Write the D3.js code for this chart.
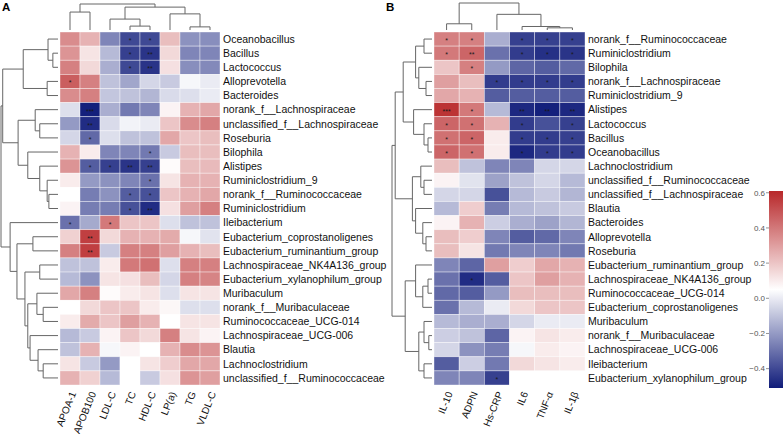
<!DOCTYPE html>
<html>
<head>
  <meta charset="utf-8">
  <script src="https://d3js.org/d3.v7.min.js"></script>
  <style>
    body { margin: 0; background: #fff; }
    text { font-family: "Liberation Sans", Arial, sans-serif; }
  </style>
</head>
<body>
<svg id="chart" width="784" height="434"></svg>
<script>
// ---- panel A data ----
var rowsA = ['Oceanobacillus','Bacillus','Lactococcus','Alloprevotella','Bacteroides',
  'norank_f__Lachnospiraceae','unclassified_f__Lachnospiraceae','Roseburia','Bilophila','Alistipes',
  'Ruminiclostridium_9','norank_f__Ruminococcaceae','Ruminiclostridium','Ileibacterium',
  'Eubacterium_coprostanoligenes','Eubacterium_ruminantium_group','Lachnospiraceae_NK4A136_group',
  'Eubacterium_xylanophilum_group','Muribaculum','norank_f__Muribaculaceae','Ruminococcaceae_UCG-014',
  'Lachnospiraceae_UCG-006','Blautia','Lachnoclostridium','unclassified_f__Ruminococcaceae'];
var colsA = ['APOA-1','APOB100','LDL-C','TC','HDL-C','LP(a)','TG','VLDL-C'];
var valsA = [
  [0.35, 0.25,-0.25,-0.40,-0.40, 0.22,-0.22,-0.23],
  [0.33, 0.12,-0.12,-0.42,-0.45, 0.15,-0.25,-0.25],
  [0.38, 0.15,-0.15,-0.40,-0.45, 0.13,-0.23,-0.24],
  [0.47, 0.38,-0.10,-0.17,-0.05,-0.08, 0.03, 0.00],
  [0.35, 0.38,-0.09,-0.10,-0.13,-0.04,-0.03, 0.00],
  [-0.03,-0.50,-0.15,-0.28,-0.25, 0.08, 0.25, 0.28],
  [-0.20,-0.47,-0.04, 0.02, 0.00, 0.20, 0.35, 0.38],
  [-0.05,-0.32,-0.03,-0.10,-0.10, 0.28, 0.20, 0.22],
  [0.25, 0.10,-0.25,-0.25,-0.28,-0.08, 0.22, 0.22],
  [0.33,-0.35,-0.42,-0.45,-0.42, 0.06, 0.22, 0.23],
  [0.10,-0.20,-0.22,-0.25,-0.30, 0.12, 0.25, 0.25],
  [0.05,-0.27,-0.22,-0.35,-0.38, 0.20, 0.25, 0.28],
  [0.08,-0.27,-0.27,-0.38,-0.47, 0.13, 0.30, 0.38],
  [-0.30,-0.16, 0.40, 0.20, 0.20,-0.03,-0.10,-0.10],
  [0.17, 0.55, 0.15, 0.25, 0.25, 0.27, 0.03,-0.02],
  [0.38, 0.55,-0.08, 0.38, 0.38, 0.30, 0.25, 0.22],
  [-0.10,-0.10, 0.10, 0.40, 0.42,-0.03, 0.38, 0.38],
  [-0.12,-0.22, 0.12, 0.13, 0.22,-0.05, 0.38, 0.37],
  [0.28, 0.38, 0.06, 0.10, 0.12,-0.03, 0.12, 0.12],
  [0.05, 0.15, 0.20, 0.20, 0.10, 0.07,-0.03,-0.03],
  [0.10, 0.27, 0.20, 0.30, 0.25, 0.05, 0.12, 0.12],
  [-0.12,-0.08, 0.08, 0.20, 0.15, 0.38, 0.12, 0.08],
  [-0.10, 0.25, 0.03, 0.08, 0.05, 0.25, 0.35, 0.33],
  [0.12,-0.08,-0.20, 0.05, 0.12, 0.18, 0.28, 0.28],
  [0.25, 0.17,-0.12, 0.05,-0.08, 0.13, 0.33, 0.30]
];
var sigA = [
  ['','','','*','*','','',''],
  ['','','','*','**','','',''],
  ['','','','*','**','','',''],
  ['*','','','','','','',''],
  ['','','','','','','',''],
  ['','***','','','','','',''],
  ['','**','','','','','',''],
  ['','*','','','','','',''],
  ['','','','','*','','',''],
  ['','*','*','**','**','','',''],
  ['','','','','*','','',''],
  ['','','','*','*','','',''],
  ['','','','*','**','','',''],
  ['*','','*','','','','',''],
  ['','**','','','','','',''],
  ['','**','','','','','','']
];
// trees: [height, left, right], leaves are row/column indices
var treeColA = [1, [0.69, 0, 1], [0.88, [0.42, 2, [0.15, 3, 4]], [0.62, 5, [0.12, 6, 7]]]];
var treeRowA = [1,
  [0.97,
    [0.61, [0.175, 0, [0.09, 1, 2]], [0.19, 3, 4]],
    [0.70, [0.40, 5, [0.32, 6, 7]], [0.53, 8, [0.32, 9, [0.19, 10, [0.16, 11, 12]]]]]],
  [0.84, 13,
    [0.72, [0.44, 14, 15],
      [0.58, [0.32, 16, 17],
        [0.53, [0.37, 18, [0.26, 19, 20]], [0.49, 21, [0.35, 22, [0.26, 23, 24]]]]]]]];

// ---- panel B data ----
var rowsB = ['norank_f__Ruminococcaceae','Ruminiclostridium','Bilophila','norank_f__Lachnospiraceae',
  'Ruminiclostridium_9','Alistipes','Lactococcus','Bacillus','Oceanobacillus','Lachnoclostridium',
  'unclassified_f__Ruminococcaceae','unclassified_f__Lachnospiraceae','Blautia','Bacteroides',
  'Alloprevotella','Roseburia','Eubacterium_ruminantium_group','Lachnospiraceae_NK4A136_group',
  'Ruminococcaceae_UCG-014','Eubacterium_coprostanoligenes','Muribaculum','norank_f__Muribaculaceae',
  'Lachnospiraceae_UCG-006','Ileibacterium','Eubacterium_xylanophilum_group'];
var colsB = ['IL-10','ADPN','Hs-CRP','IL6','TNF-\u03b1','IL-1\u03b2'];
var valsB = [
  [0.38, 0.38,-0.15,-0.42,-0.42,-0.42],
  [0.40, 0.45,-0.30,-0.43,-0.46,-0.45],
  [0.20, 0.38,-0.20,-0.33,-0.35,-0.32],
  [0.30, 0.22,-0.43,-0.43,-0.43,-0.43],
  [0.28, 0.25,-0.35,-0.35,-0.35,-0.35],
  [0.58, 0.40,-0.12,-0.48,-0.50,-0.48],
  [0.45, 0.42, 0.25,-0.43,-0.38,-0.42],
  [0.42, 0.45, 0.10,-0.43,-0.43,-0.42],
  [0.45, 0.42, 0.10,-0.48,-0.43,-0.43],
  [0.22,-0.10,-0.25,-0.25,-0.05,-0.05],
  [0.08,-0.02,-0.18,-0.10,-0.05,-0.12],
  [-0.05,-0.05,-0.38,-0.12,-0.08,-0.13],
  [-0.12, 0.18,-0.27,-0.12,-0.10,-0.08],
  [0.08, 0.25,-0.07,-0.15,-0.18,-0.13],
  [0.22, 0.18,-0.25,-0.35,-0.32,-0.25],
  [0.22, 0.12,-0.28,-0.25,-0.25,-0.28],
  [-0.25,-0.33, 0.30, 0.18, 0.28, 0.25],
  [-0.30,-0.47,-0.35, 0.20, 0.30, 0.25],
  [-0.32,-0.35,-0.20, 0.22, 0.22, 0.22],
  [-0.30,-0.12, 0.00, 0.15, 0.20, 0.20],
  [-0.12,-0.15,-0.15,-0.05, 0.00, 0.00],
  [-0.07,-0.10,-0.33, 0.08, 0.12, 0.10],
  [-0.05,-0.22,-0.27, 0.03, 0.10, 0.08],
  [-0.35,-0.07,-0.28, 0.15, 0.12, 0.10],
  [-0.25,-0.25,-0.42, 0.05, 0.05, 0.05]
];
var sigB = [
  ['*','*','','*','*','*'],
  ['*','**','','*','*','*'],
  ['','*','','','',''],
  ['','','*','*','*','*'],
  ['','','','','',''],
  ['***','*','','**','**','**'],
  ['*','*','','*','','*'],
  ['*','*','','*','*','*'],
  ['*','*','','*','*','*'],
  [], [], [], [], [], [], [], [],
  ['','*','','','',''],
  [], [], [], [], [], [],
  ['','','*','','','']
];
var treeColB = [1, [0.23, 0, 1], [0.58, 2, [0.13, 3, [0.08, 4, 5]]]];
var treeRowB = [1,
  [0.92,
    [0.72, [0.41, [0.2, 0, 1], [0.33, 2, [0.15, 3, 4]]], [0.46, 5, [0.2, 6, [0.1, 7, 8]]]],
    [0.49, [0.28, 9, [0.2, 10, 11]], [0.41, 12, [0.23, 13, [0.15, 14, 15]]]]],
  [0.67,
    [0.41, 16, [0.23, [0.1, 17, 18], 19]],
    [0.33, [0.2, 20, [0.08, 21, 22]], [0.2, 23, 24]]]];

// colour scale (legend range)
var legendMin = -0.51, legendMax = 0.61;
var legendTicks = [-0.4, -0.2, 0.0, 0.2, 0.4, 0.6];
var color = d3.scaleLinear()
  .domain([legendMin, (legendMin + legendMax) / 2, legendMax])
  .range(['#101c7a', '#ffffff', '#b8282a'])
  .clamp(true);

var svg = d3.select('#chart');

function drawTree(g, tree, leafPos, hScale, vertical) {
  function walk(node) {
    if (typeof node === 'number') return { p: leafPos(node), h: 0 };
    var a = walk(node[1]), b = walk(node[2]), h = node[0];
    var ha = hScale(a.h), hb = hScale(b.h), hn = hScale(h);
    var d = vertical
      ? 'M' + a.p + ',' + ha + 'V' + hn + 'H' + b.p + 'V' + hb
      : 'M' + ha + ',' + a.p + 'H' + hn + 'V' + b.p + 'H' + hb;
    g.append('path').attr('d', d).attr('fill', 'none')
      .attr('stroke', '#666').attr('stroke-width', 1);
    return { p: (a.p + b.p) / 2, h: h };
  }
  walk(tree);
}

function panel(o) {
  var g = svg.append('g');
  var x = d3.scaleBand().domain(d3.range(o.cols.length)).range([o.x0, o.x1]);
  var y = d3.scaleBand().domain(d3.range(o.rows.length)).range([o.y0, o.y1]);

  o.vals.forEach(function(row, i) {
    row.forEach(function(v, j) {
      g.append('rect')
        .attr('x', x(j)).attr('y', y(i))
        .attr('width', x.bandwidth()).attr('height', y.bandwidth())
        .attr('fill', color(v))
        .attr('stroke', '#ffffff').attr('stroke-opacity', 0.55).attr('stroke-width', 0.7);
      var s = (o.sig[i] || [])[j];
      if (s) {
        g.append('text')
          .attr('x', x(j) + x.bandwidth() / 2).attr('y', y(i) + y.bandwidth() / 2 + 4)
          .attr('text-anchor', 'middle').attr('font-size', 7).attr('fill', '#1a1a1a')
          .text(s);
      }
    });
  });

  g.selectAll('.rl').data(o.rows).enter().append('text')
    .attr('x', o.x1 + 3).attr('y', function(d, i) { return y(i) + y.bandwidth() / 2; })
    .attr('dy', '0.36em').attr('font-size', 10.5).attr('fill', '#111')
    .text(function(d) { return d; });

  g.selectAll('.cl').data(o.cols).enter().append('text')
    .attr('transform', function(d, i) {
      return 'translate(' + (x(i) + x.bandwidth() / 2 + 3) + ',' + (o.y1 + 7) + ') rotate(-68)';
    })
    .attr('text-anchor', 'end').attr('dy', '0.35em').attr('font-size', 10).attr('fill', '#111')
    .text(function(d) { return d; });

  drawTree(g, o.colTree, function(j) { return x(j) + x.bandwidth() / 2; },
    d3.scaleLinear().domain([0, 1]).range([o.y0 - 2, o.colTop]), true);
  drawTree(g, o.rowTree, function(i) { return y(i) + y.bandwidth() / 2; },
    d3.scaleLinear().domain([0, 1]).range([o.x0 - 2, o.rowLeft]), false);

  g.append('text').attr('x', o.labelX).attr('y', 11)
    .attr('font-size', 11.5).attr('font-weight', 'bold').attr('fill', '#000')
    .text(o.label);
}

panel({ label: 'A', labelX: 2, rows: rowsA, cols: colsA, vals: valsA, sig: sigA,
  colTree: treeColA, rowTree: treeRowA,
  x0: 60, x1: 220, y0: 32, y1: 385, colTop: 4, rowLeft: 1 });
panel({ label: 'B', labelX: 386, rows: rowsB, cols: colsB, vals: valsB, sig: sigB,
  colTree: treeColB, rowTree: treeRowB,
  x0: 434, x1: 585, y0: 32, y1: 385, colTop: 3, rowLeft: 392 });

// legend
var ly = d3.scaleLinear().domain([legendMin, legendMax]).range([388, 191]);
var grad = svg.append('defs').append('linearGradient')
  .attr('id', 'lg').attr('x1', 0).attr('y1', 1).attr('x2', 0).attr('y2', 0);
d3.range(0, 1.0001, 0.05).forEach(function(t) {
  grad.append('stop').attr('offset', t)
    .attr('stop-color', color(legendMin + t * (legendMax - legendMin)));
});
svg.append('rect').attr('x', 769).attr('y', ly(legendMax))
  .attr('width', 14).attr('height', ly(legendMin) - ly(legendMax))
  .attr('fill', 'url(#lg)');
legendTicks.forEach(function(t) {
  svg.append('line').attr('x1', 766).attr('x2', 769)
    .attr('y1', ly(t)).attr('y2', ly(t)).attr('stroke', '#777').attr('stroke-width', 0.8);
  svg.append('text').attr('x', 765).attr('y', ly(t)).attr('dy', '0.35em')
    .attr('text-anchor', 'end').attr('font-size', 8).attr('fill', '#555')
    .text(d3.format('.1f')(t));
});
</script>
</body>
</html>
